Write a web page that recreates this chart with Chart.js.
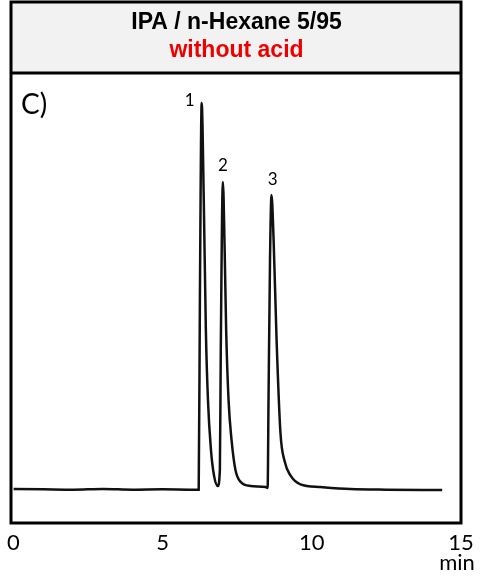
<!DOCTYPE html>
<html>
<head>
<meta charset="utf-8">
<script src="https://cdn.jsdelivr.net/npm/chart.js@4"></script>
<style>
  html, body { margin: 0; padding: 0; background: #fff; }
  #wrap { width: 484px; height: 581px; }
</style>
</head>
<body>
<div id="wrap"><canvas id="chart" width="484" height="581"></canvas></div>
<script>
// retention time (min) and detector signal
const times = [0, 1, 2, 3, 4, 5, 6, 6.21,
  6.25, 6.31, 6.38, 6.45, 6.52, 6.62, 6.72, 6.85,
  6.92, 6.95, 7.02, 7.08, 7.13, 7.21, 7.31, 7.44, 7.62, 7.95, 8.45,
  8.52, 8.55, 8.60, 8.65, 8.72, 8.82, 8.95, 9.09, 9.29, 9.62, 10.29, 11.29, 12.5, 14.37];
const signal = [0.2, 0.1, 0.0, 0.2, 0.0, 0.1, 0.0, 0.0,
  57, 116, 87, 48, 27, 12, 4.4, 1.1,
  6, 42, 92.3, 72, 48, 27, 15, 6, 2.3, 1.1, 0.8,
  0.5, 27, 69, 88.4, 75, 45, 17, 8.5, 4.2, 1.6, 0.8, 0.2, 0.0, -0.1];
const xTicks = [0, 5, 10, 15];
const peakNames = ['1', '2', '3'];
const peakLabelTimes = [5.91, 7.02, 8.69];
const peakLabelValues = [116.6, 97.1, 92.9];

const points = times.map((t, i) => ({ x: t, y: signal[i] }));

const framePlugin = {
  id: 'frame',
  beforeDraw(chart) {
    const ctx = chart.ctx;
    ctx.save();
    ctx.fillStyle = '#f2f2f2';
    ctx.fillRect(11, 2, 450, 71);
    ctx.restore();
  },
  afterDraw(chart) {
    const ctx = chart.ctx;
    const xs = chart.scales.x, ys = chart.scales.y;
    ctx.save();
    ctx.strokeStyle = '#000';
    ctx.lineWidth = 3;
    ctx.strokeRect(11, 2, 450, 521);
    ctx.beginPath();
    ctx.moveTo(11, 73);
    ctx.lineTo(461, 73);
    ctx.stroke();

    ctx.fillStyle = '#000';
    ctx.textAlign = 'center';
    ctx.textBaseline = 'middle';
    ctx.font = '17px Lato';
    peakNames.forEach((n, i) => {
      ctx.fillText(n, xs.getPixelForValue(peakLabelTimes[i]), ys.getPixelForValue(peakLabelValues[i]));
    });

    ctx.textAlign = 'left';
    ctx.font = '28px Lato';
    ctx.fillText('C)', 21, 105);

    ctx.textAlign = 'center';
    ctx.font = '22px Lato';
    ctx.fillText('min', 457, 563);
    ctx.restore();
  }
};

new Chart(document.getElementById('chart'), {
  type: 'line',
  data: {
    datasets: [{
      data: points,
      borderColor: '#111',
      borderWidth: 2.5,
      pointRadius: 0,
      cubicInterpolationMode: 'monotone',
      fill: false
    }]
  },
  options: {
    responsive: false,
    animation: false,
    events: [],
    layout: { padding: { left: 12, right: 23, top: 2, bottom: 0 } },
    plugins: {
      legend: { display: false },
      tooltip: { enabled: false },
      title: {
        display: true,
        text: 'IPA / n-Hexane 5/95',
        color: '#000',
        font: { family: 'Liberation Sans', size: 23, weight: 'bold' },
        padding: { top: 7, bottom: 0 }
      },
      subtitle: {
        display: true,
        text: 'without acid',
        color: '#ee0000',
        font: { family: 'Liberation Sans', size: 23, weight: 'bold' },
        padding: { top: 0, bottom: 8.8 }
      }
    },
    scales: {
      x: {
        type: 'linear',
        min: 0,
        max: 15,
        afterBuildTicks: (s) => { s.ticks = xTicks.map(v => ({ value: v })); },
        afterFit: (s) => { s.height = 58; },
        grid: { display: false, drawTicks: false },
        border: { display: false },
        ticks: { color: '#000', padding: 7, maxRotation: 0, font: { family: 'Lato', size: 22 } }
      },
      y: {
        display: false,
        min: -10,
        max: 125
      }
    }
  },
  plugins: [framePlugin]
});
</script>
</body>
</html>
